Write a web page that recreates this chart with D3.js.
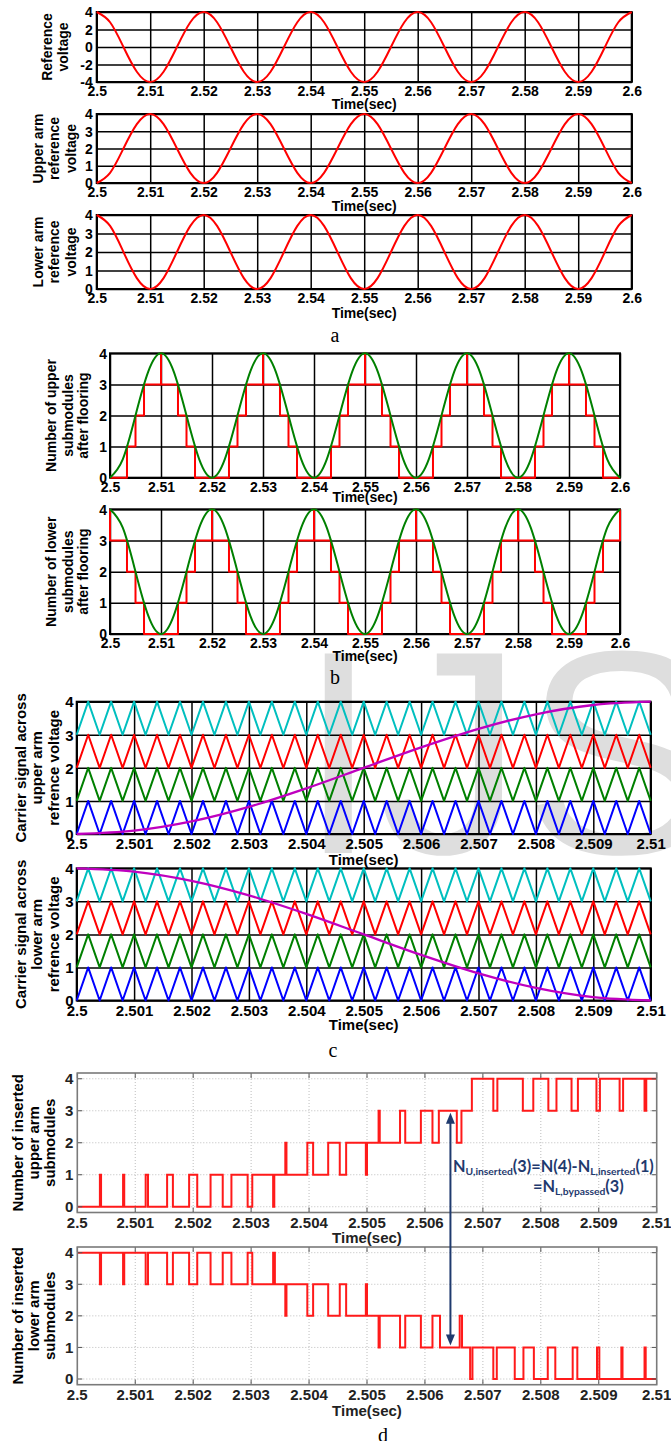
<!DOCTYPE html>
<html>
<head>
<meta charset="utf-8">
<script src="https://cdn.jsdelivr.net/npm/d3@7"></script>
<style>
  body { margin: 0; background: #fff; }
  svg { display: block; font-family: "Liberation Sans", Arial, sans-serif; }
</style>
</head>
<body>
<svg id="fig" width="671" height="1441"></svg>
<script>
// ---- panel a : reference voltages, sampled every 2.5 ms ----
var aTime = [2.5, 2.5025, 2.505, 2.5075, 2.51, 2.5125, 2.515, 2.5175, 2.52, 2.5225, 2.525, 2.5275,
  2.53, 2.5325, 2.535, 2.5375, 2.54, 2.5425, 2.545, 2.5475, 2.55, 2.5525, 2.555, 2.5575, 2.56,
  2.5625, 2.565, 2.5675, 2.57, 2.5725, 2.575, 2.5775, 2.58, 2.5825, 2.585, 2.5875, 2.59, 2.5925,
  2.595, 2.5975, 2.6];
var refVoltage = [4, 2.83, 0, -2.83, -4, -2.83, 0, 2.83, 4, 2.83, 0, -2.83, -4, -2.83, 0, 2.83,
  4, 2.83, 0, -2.83, -4, -2.83, 0, 2.83, 4, 2.83, 0, -2.83, -4, -2.83, 0, 2.83,
  4, 2.83, 0, -2.83, -4, -2.83, 0, 2.83, 4];
var upperRef = [0, 0.59, 2, 3.41, 4, 3.41, 2, 0.59, 0, 0.59, 2, 3.41, 4, 3.41, 2, 0.59,
  0, 0.59, 2, 3.41, 4, 3.41, 2, 0.59, 0, 0.59, 2, 3.41, 4, 3.41, 2, 0.59,
  0, 0.59, 2, 3.41, 4, 3.41, 2, 0.59, 0];
var lowerRef = [4, 3.41, 2, 0.59, 0, 0.59, 2, 3.41, 4, 3.41, 2, 0.59, 0, 0.59, 2, 3.41,
  4, 3.41, 2, 0.59, 0, 0.59, 2, 3.41, 4, 3.41, 2, 0.59, 0, 0.59, 2, 3.41,
  4, 3.41, 2, 0.59, 0, 0.59, 2, 3.41, 4];
var ticks01 = [2.5, 2.51, 2.52, 2.53, 2.54, 2.55, 2.56, 2.57, 2.58, 2.59, 2.6];

// ---- panel b : floored submodule counts (step changes) ----
var floorUpT = [2.5, 2.50333, 2.505, 2.50667, 2.51, 2.51, 2.51333, 2.515, 2.51667,
  2.52333, 2.525, 2.52667, 2.53, 2.53, 2.53333, 2.535, 2.53667,
  2.54333, 2.545, 2.54667, 2.55, 2.55, 2.55333, 2.555, 2.55667,
  2.56333, 2.565, 2.56667, 2.57, 2.57, 2.57333, 2.575, 2.57667,
  2.58333, 2.585, 2.58667, 2.59, 2.59, 2.59333, 2.595, 2.59667, 2.6];
var floorUpN = [0, 1, 2, 3, 4, 3, 2, 1, 0,
  1, 2, 3, 4, 3, 2, 1, 0,
  1, 2, 3, 4, 3, 2, 1, 0,
  1, 2, 3, 4, 3, 2, 1, 0,
  1, 2, 3, 4, 3, 2, 1, 0, 0];
var floorLoT = [2.5, 2.5, 2.50333, 2.505, 2.50667, 2.51333, 2.515, 2.51667,
  2.52, 2.52, 2.52333, 2.525, 2.52667, 2.53333, 2.535, 2.53667,
  2.54, 2.54, 2.54333, 2.545, 2.54667, 2.55333, 2.555, 2.55667,
  2.56, 2.56, 2.56333, 2.565, 2.56667, 2.57333, 2.575, 2.57667,
  2.58, 2.58, 2.58333, 2.585, 2.58667, 2.59333, 2.595, 2.59667, 2.6];
var floorLoN = [4, 3, 2, 1, 0, 1, 2, 3,
  4, 3, 2, 1, 0, 1, 2, 3,
  4, 3, 2, 1, 0, 1, 2, 3,
  4, 3, 2, 1, 0, 1, 2, 3,
  4, 3, 2, 1, 0, 1, 2, 3, 4];

// ---- panel c : level-shifted carriers and half period of the references ----
var ticks001 = [2.5, 2.501, 2.502, 2.503, 2.504, 2.505, 2.506, 2.507, 2.508, 2.509, 2.51];
var carrierT = [2.5, 2.5002, 2.5004, 2.5006, 2.5008, 2.501, 2.5012, 2.5014, 2.5016, 2.5018,
  2.502, 2.5022, 2.5024, 2.5026, 2.5028, 2.503, 2.5032, 2.5034, 2.5036, 2.5038,
  2.504, 2.5042, 2.5044, 2.5046, 2.5048, 2.505, 2.5052, 2.5054, 2.5056, 2.5058,
  2.506, 2.5062, 2.5064, 2.5066, 2.5068, 2.507, 2.5072, 2.5074, 2.5076, 2.5078,
  2.508, 2.5082, 2.5084, 2.5086, 2.5088, 2.509, 2.5092, 2.5094, 2.5096, 2.5098, 2.51];
var carrierShape = [0, 1, 0, 1, 0, 1, 0, 1, 0, 1, 0, 1, 0, 1, 0, 1, 0, 1, 0, 1, 0, 1, 0, 1, 0, 1,
  0, 1, 0, 1, 0, 1, 0, 1, 0, 1, 0, 1, 0, 1, 0, 1, 0, 1, 0, 1, 0, 1, 0, 1, 0];
var carrierLevels = [0, 1, 2, 3];
var carrierColors = ["#0000ff", "#008000", "#ff0000", "#00bfbf"];
var halfT = [2.5, 2.501, 2.502, 2.503, 2.504, 2.505, 2.506, 2.507, 2.508, 2.509, 2.51];
var halfUpper = [0, 0.1, 0.38, 0.82, 1.38, 2, 2.62, 3.18, 3.62, 3.9, 4];
var halfLower = [4, 3.9, 3.62, 3.18, 2.62, 2, 1.38, 0.82, 0.38, 0.1, 0];

// ---- panel d : inserted submodules (switching instants) ----
var insUpT = [2.5, 2.50039, 2.50041, 2.50079, 2.50081, 2.50118, 2.50122, 2.50155, 2.50165,
  2.50193, 2.50207, 2.5023, 2.50251, 2.50266, 2.50294, 2.50302, 2.50338, 2.5034,
  2.50359, 2.50361, 2.50397, 2.50407, 2.50433, 2.50453, 2.50464, 2.50498, 2.505,
  2.5052, 2.50522, 2.50557, 2.50566, 2.50593, 2.50613, 2.50624, 2.50655, 2.50663,
  2.50681, 2.50718, 2.50725, 2.50769, 2.50787, 2.50813, 2.50827, 2.50853, 2.50864,
  2.50896, 2.50902, 2.50936, 2.50942, 2.50979, 2.50982, 2.51];
var insUpN = [0, 1, 0, 1, 0, 1, 0, 1, 0,
  1, 0, 1, 0, 1, 0, 1, 0, 1,
  2, 1, 2, 1, 2, 1, 2, 1, 2,
  3, 2, 3, 2, 3, 2, 3, 2, 3,
  4, 3, 4, 3, 4, 3, 4, 3, 4,
  3, 4, 3, 4, 3, 4, 4];
var insLoT = [2.5, 2.50039, 2.50041, 2.50079, 2.50081, 2.50118, 2.50122, 2.50155, 2.50165,
  2.50193, 2.50207, 2.5023, 2.50251, 2.50266, 2.50294, 2.50302, 2.50338, 2.50341,
  2.50359, 2.50361, 2.50397, 2.50407, 2.50433, 2.50453, 2.50464, 2.50498, 2.505,
  2.5052, 2.50522, 2.50557, 2.50566, 2.50593, 2.50613, 2.50626, 2.5066, 2.50664,
  2.50678, 2.50682, 2.50718, 2.50724, 2.50755, 2.5077, 2.50788, 2.50812, 2.50825,
  2.50855, 2.50863, 2.50897, 2.50901, 2.50939, 2.50941, 2.50979, 2.50981, 2.51];
var insLoN = [4, 3, 4, 3, 4, 3, 4, 3, 4,
  3, 4, 3, 4, 3, 4, 3, 4, 3,
  2, 3, 2, 3, 2, 3, 2, 3, 2,
  1, 2, 1, 2, 1, 2, 1, 2, 1,
  0, 1, 0, 1, 0, 1, 0, 1, 0,
  1, 0, 1, 0, 1, 0, 1, 0, 0];
var arrowTime = 2.50644;

var svg = d3.select("#fig");

// faint watermark behind panel c
svg.append("text")
  .attr("x", 298).attr("y", 853)
  .attr("font-size", 290)
  .attr("fill", "#dedede")
  .text("IJS");

function zip(t, v) { return t.map((d, i) => [d, v[i]]); }

function yTitle(lines, xs, cy, size) {
  lines.forEach((s, i) => {
    svg.append("text")
      .attr("transform", "translate(" + xs[i] + "," + cy + ") rotate(-90)")
      .attr("text-anchor", "middle")
      .attr("font-size", size)
      .attr("font-weight", "bold")
      .text(s);
  });
}

// matlab style panels (a, b, c)
function boxPanel(p) {
  var x = d3.scaleLinear().domain(p.xDomain).range([p.left, p.right]);
  var y = d3.scaleLinear().domain(p.yDomain).range([p.bottom, p.top]);
  var g = svg.append("g").attr("font-weight", "bold");
  var w = p.right - p.left, h = p.bottom - p.top;

  var gx = g.append("g").attr("transform", "translate(0," + p.bottom + ")")
    .call(d3.axisBottom(x).tickValues(p.xTicks).tickSize(-h).tickFormat(d => String(d)));
  gx.selectAll("text").attr("y", p.xLabOff).attr("dy", "0.35em")
    .attr("font-size", p.fs).attr("fill", "#000").attr("font-family", null);
  var gy = g.append("g").attr("transform", "translate(" + p.left + ",0)")
    .call(d3.axisLeft(y).tickValues(p.yTicks).tickSize(-w).tickFormat(d => String(d)));
  gy.selectAll("text").attr("x", -p.yLabOff).attr("dy", "0.35em")
    .attr("font-size", p.fs).attr("fill", "#000").attr("font-family", null);
  g.selectAll(".domain").remove();
  g.selectAll(".tick line").attr("stroke", "#000").attr("stroke-width", 1.5);

  g.append("rect").attr("x", p.left).attr("y", p.top).attr("width", w).attr("height", h)
    .attr("fill", "none").attr("stroke", "#000").attr("stroke-width", 2);

  p.series.forEach(s => {
    var line = d3.line().x(d => x(d[0])).y(d => y(d[1])).curve(s.curve);
    g.append("path").datum(s.data)
      .attr("d", line).attr("fill", "none")
      .attr("stroke", s.color).attr("stroke-width", s.width || 2)
      .attr("stroke-linejoin", "round");
  });

  yTitle(p.title, p.titleX, (p.top + p.bottom) / 2, p.titleFs);
  svg.append("text").attr("x", (p.left + p.right) / 2).attr("y", p.timeY)
    .attr("text-anchor", "middle").attr("font-size", p.fs).attr("font-weight", "bold")
    .text("Time(sec)");
}

// panel a
var aCommon = { left: 96.7, right: 631.7, xDomain: [2.5, 2.6], xTicks: ticks01, fs: 14, titleFs: 14,
  xLabOff: 9, yLabOff: 4 };
boxPanel(Object.assign({}, aCommon, { top: 12, bottom: 82, yDomain: [-4, 4], yTicks: [-4, -2, 0, 2, 4],
  title: ["Reference", "voltage"], titleX: [51.5, 67.5], timeY: 109,
  series: [{ data: zip(aTime, refVoltage), color: "#ff0000", curve: d3.curveNatural }] }));
boxPanel(Object.assign({}, aCommon, { top: 114, bottom: 183, yDomain: [0, 4], yTicks: [0, 1, 2, 3, 4],
  title: ["Upper arm", "reference", "voltage"], titleX: [42.5, 59, 75.5], timeY: 211,
  series: [{ data: zip(aTime, upperRef), color: "#ff0000", curve: d3.curveNatural }] }));
boxPanel(Object.assign({}, aCommon, { top: 215, bottom: 289, yDomain: [0, 4], yTicks: [0, 1, 2, 3, 4],
  title: ["Lower arm", "reference", "voltage"], titleX: [42.5, 59, 75.5], timeY: 318,
  series: [{ data: zip(aTime, lowerRef), color: "#ff0000", curve: d3.curveNatural }] }));

// panel b
var bCommon = { left: 110, right: 620, xDomain: [2.5, 2.6], xTicks: ticks01, yDomain: [0, 4],
  yTicks: [0, 1, 2, 3, 4], fs: 14, titleFs: 14, xLabOff: 9, yLabOff: 3, titleX: [56, 72.5, 88] };
boxPanel(Object.assign({}, bCommon, { top: 353.3, bottom: 477.7, timeY: 502,
  title: ["Number of upper", "submodules", "after flooring"],
  series: [{ data: zip(floorUpT, floorUpN), color: "#ff0000", curve: d3.curveStepAfter },
           { data: zip(aTime, upperRef), color: "#008000", curve: d3.curveNatural }] }));
boxPanel(Object.assign({}, bCommon, { top: 509.3, bottom: 634, timeY: 661,
  title: ["Number of lower", "submodules", "after flooring"],
  series: [{ data: zip(floorLoT, floorLoN), color: "#ff0000", curve: d3.curveStepAfter },
           { data: zip(aTime, lowerRef), color: "#008000", curve: d3.curveNatural }] }));

// panel c
function carrierSeries() {
  return carrierLevels.map((lv, i) => ({
    data: carrierT.map((t, j) => [t, lv + carrierShape[j]]),
    color: carrierColors[i], curve: d3.curveLinear
  }));
}
var cCommon = { left: 76.7, right: 650.7, xDomain: [2.5, 2.51], xTicks: ticks001, yDomain: [0, 4],
  yTicks: [0, 1, 2, 3, 4], fs: 15, titleFs: 15, xLabOff: 10, yLabOff: 3, titleX: [26, 42, 58.5] };
boxPanel(Object.assign({}, cCommon, { top: 701.7, bottom: 834, timeY: 865,
  title: ["Carrier signal across", "upper arm", "refrence voltage"],
  series: carrierSeries().concat([{ data: zip(halfT, halfUpper), color: "#bf00bf", curve: d3.curveMonotoneX, width: 2.3 }]) }));
boxPanel(Object.assign({}, cCommon, { top: 868.3, bottom: 1000.5, timeY: 1030,
  title: ["Carrier signal across", "lower arm", "refrence voltage"],
  series: carrierSeries().concat([{ data: zip(halfT, halfLower), color: "#bf00bf", curve: d3.curveMonotoneX, width: 2.3 }]) }));

// panel d (different plot style: dotted light grid, grey box)
function gridPanel(p) {
  var x = d3.scaleLinear().domain([2.5, 2.51]).range([p.left, p.right]);
  var y = d3.scaleLinear().domain([-0.18, 4.18]).range([p.bottom, p.top]);
  var g = svg.append("g");
  var yTicks = [0, 1, 2, 3, 4];

  g.selectAll(".gx").data(ticks001.slice(1, -1)).enter().append("line")
    .attr("x1", d => x(d)).attr("x2", d => x(d)).attr("y1", p.top).attr("y2", p.bottom)
    .attr("stroke", "#bdbdbd").attr("stroke-dasharray", "1,2");
  g.selectAll(".gy").data(yTicks).enter().append("line")
    .attr("x1", p.left).attr("x2", p.right).attr("y1", d => y(d)).attr("y2", d => y(d))
    .attr("stroke", "#bdbdbd").attr("stroke-dasharray", "1,2");

  var line = d3.line().x(d => x(d[0])).y(d => y(d[1])).curve(d3.curveStepAfter);
  g.append("path").datum(p.data).attr("d", line).attr("fill", "none")
    .attr("stroke", "#ff1a1a").attr("stroke-width", 2);

  // short inward ticks on all four sides
  g.selectAll(".tb").data(ticks001).enter().append("path")
    .attr("d", d => "M" + x(d) + "," + p.bottom + "v-5M" + x(d) + "," + p.top + "v5")
    .attr("stroke", "#555").attr("stroke-width", 1);
  g.selectAll(".tl").data(yTicks).enter().append("path")
    .attr("d", d => "M" + p.left + "," + y(d) + "h5M" + p.right + "," + y(d) + "h-5")
    .attr("stroke", "#555").attr("stroke-width", 1);
  g.append("rect").attr("x", p.left).attr("y", p.top)
    .attr("width", p.right - p.left).attr("height", p.bottom - p.top)
    .attr("fill", "none").attr("stroke", "#7a7a7a").attr("stroke-width", 1.6);

  g.selectAll(".xl").data(ticks001).enter().append("text")
    .attr("x", d => x(d)).attr("y", p.bottom + 10).attr("dy", "0.35em")
    .attr("text-anchor", "middle").attr("font-size", 15).attr("font-weight", "bold")
    .attr("fill", "#222").text(d => String(d));
  g.selectAll(".yl").data(yTicks).enter().append("text")
    .attr("x", p.left - 4).attr("y", d => y(d)).attr("dy", "0.35em")
    .attr("text-anchor", "end").attr("font-size", 15).attr("font-weight", "bold")
    .attr("fill", "#222").text(d => String(d));

  yTitle(p.title, [23, 39, 55], (p.top + p.bottom) / 2, 15);
  svg.append("text").attr("x", (p.left + p.right) / 2).attr("y", p.timeY)
    .attr("text-anchor", "middle").attr("font-size", 15).attr("font-weight", "bold")
    .attr("fill", "#222").text("Time(sec)");
  return { x: x, y: y };
}

var dUp = gridPanel({ left: 77.3, right: 656.7, top: 1073, bottom: 1212.5, timeY: 1243,
  title: ["Number of inserted", "upper arm", "submodules"], data: zip(insUpT, insUpN) });
var dLo = gridPanel({ left: 77.3, right: 656.7, top: 1247, bottom: 1384.7, timeY: 1416,
  title: ["Number of inserted", "lower arm", "submodules"], data: zip(insLoT, insLoN) });

// double headed arrow linking the two arms
var navy = "#1f3a6e";
var ax = dUp.x(arrowTime), ay1 = dUp.y(3) + 2, ay2 = dLo.y(1) - 2;
svg.append("line").attr("x1", ax).attr("x2", ax).attr("y1", ay1 + 10).attr("y2", ay2 - 10)
  .attr("stroke", navy).attr("stroke-width", 2);
svg.append("path").attr("d", "M" + ax + "," + ay1 + "l-4.5,11h9z").attr("fill", navy);
svg.append("path").attr("d", "M" + ax + "," + ay2 + "l-4.5,-11h9z").attr("fill", navy);

function annot(xp, yp, parts) {
  var t = svg.append("text").attr("x", xp).attr("y", yp)
    .attr("font-family", "Lato, 'Open Sans', sans-serif").attr("font-weight", "bold")
    .attr("font-size", 16.3).attr("fill", navy);
  parts.forEach(pt => {
    var s = t.append("tspan").text(pt[0]);
    if (pt[1]) s.attr("font-size", 10.3).attr("dy", 3);
    else if (pt[2]) s.attr("dy", -3);
  });
}
annot(453, 1172, [["N"], ["U,inserted", 1], ["(3)=N(4)-N", 0, 1], ["L,inserted", 1], ["(1)", 0, 1]]);
annot(533, 1192, [["=N"], ["L,bypassed", 1], ["(3)", 0, 1]]);

// sub-figure letters
[["a", 335, 342], ["b", 335, 684], ["c", 333, 1057], ["d", 383, 1442]].forEach(l => {
  svg.append("text").attr("x", l[1]).attr("y", l[2]).attr("text-anchor", "middle")
    .attr("font-family", "'Liberation Serif', serif").attr("font-size", 20).text(l[0]);
});
</script>
</body>
</html>
